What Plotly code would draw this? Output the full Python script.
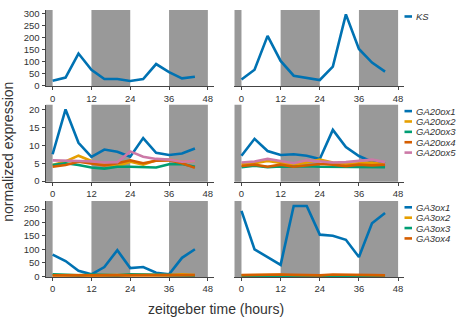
import plotly.graph_objects as go

# ---------------- data ----------------
hours = [0, 4, 8, 12, 16, 20, 24, 28, 32, 36, 40, 44]
x_ticks = [0, 12, 24, 36, 48]
night_start = [-2.2, 12, 36]
night_end = [0, 24, 48]

# Row 1: KS
ks_left = [20, 33, 134, 66, 27, 27, 19, 27, 90, 56, 30, 37]
ks_right = [25, 66, 208, 103, 41, 31, 23, 79, 298, 153, 96, 58]

# Row 2: GA20ox
ga20ox1_left = [7.5, 20.0, 10.7, 6.8, 8.8, 8.2, 6.8, 12.0, 7.9, 7.3, 7.7, 9.1]
ga20ox2_left = [4.5, 5.5, 7.1, 5.6, 4.6, 4.2, 5.4, 4.6, 5.8, 6.0, 5.4, 5.6]
ga20ox3_left = [4.5, 5.0, 4.5, 3.8, 3.5, 4.0, 4.0, 4.0, 3.8, 4.7, 4.8, 4.0]
ga20ox4_left = [4.0, 4.5, 5.4, 5.0, 4.4, 5.0, 5.8, 5.0, 5.7, 5.8, 5.0, 3.7]
ga20ox5_left = [5.8, 5.8, 5.6, 5.5, 5.2, 5.3, 8.3, 6.8, 6.2, 6.0, 5.4, 5.6]

ga20ox1_right = [7.1, 11.8, 8.4, 7.3, 7.5, 7.1, 6.2, 14.3, 9.5, 7.0, 5.4, 5.0]
ga20ox2_right = [4.8, 5.0, 5.6, 5.2, 4.6, 5.2, 6.0, 5.2, 4.8, 5.0, 5.2, 4.6]
ga20ox3_right = [3.9, 4.3, 3.9, 4.1, 4.0, 4.2, 4.0, 4.0, 4.1, 3.9, 4.0, 3.9]
ga20ox4_right = [4.2, 4.6, 4.0, 4.6, 4.0, 4.3, 4.8, 4.6, 4.2, 4.6, 4.4, 4.6]
ga20ox5_right = [5.2, 5.5, 6.2, 5.5, 5.0, 5.8, 5.6, 5.2, 5.3, 5.6, 6.0, 5.3]

# Row 3: GA3ox
ga3ox1_left = [81, 57, 21, 8, 35, 97, 31, 35, 14, 8, 69, 101]
ga3ox2_left = [5, 4, 3, 4, 5, 4, 5, 6, 5, 5, 8, 5]
ga3ox3_left = [8, 6, 4, 7, 5, 4, 8, 7, 4, 5, 4, 3]
ga3ox4_left = [4, 4, 4, 4, 3, 3, 4, 5, 5, 4, 5, 5]

ga3ox1_right = [243, 100, 72, 43, 261, 261, 155, 151, 136, 72, 197, 235]
ga3ox2_right = [4, 5, 5, 6, 3, 3, 3, 4, 4, 3, 3, 2]
ga3ox3_right = [3, 3, 3, 3, 2, 2, 2, 3, 3, 3, 2, 2]
ga3ox4_right = [5, 6, 6, 7, 6, 4, 4, 7, 7, 7, 5, 4]

row1_names = ["KS"]
row2_names = ["GA20ox1", "GA20ox2", "GA20ox3", "GA20ox4", "GA20ox5"]
row3_names = ["GA3ox1", "GA3ox2", "GA3ox3", "GA3ox4"]

row1_ticks = [0, 50, 100, 150, 200, 250, 300]
row2_ticks = [0, 5, 10, 15, 20]
row3_ticks = [0, 50, 100, 150, 200, 250]

# ---------------- style / layout ----------------
W, H = 458, 327
colors = ["#0072B2", "#E69F00", "#009E73", "#D55E00", "#CC79A7"]
shade = "#999999"
axcol = "#444444"
txtcol = "#333333"
FONT = "Liberation Sans, Arial, sans-serif"

col_px = [(45.5, 214.0), (234.3, 404.3)]
row_px = [(8.3, 86.3), (105.0, 183.8), (203.3, 281.0)]
x_range = [-2.2, 49.9]

rows = [
    dict(names=row1_names, left=[ks_left], right=[ks_right],
         yrange=[-4, 316], yticks=row1_ticks),
    dict(names=row2_names,
         left=[ga20ox1_left, ga20ox2_left, ga20ox3_left, ga20ox4_left, ga20ox5_left],
         right=[ga20ox1_right, ga20ox2_right, ga20ox3_right, ga20ox4_right, ga20ox5_right],
         yrange=[-0.2, 21.3], yticks=row2_ticks),
    dict(names=row3_names,
         left=[ga3ox1_left, ga3ox2_left, ga3ox3_left, ga3ox4_left],
         right=[ga3ox1_right, ga3ox2_right, ga3ox3_right, ga3ox4_right],
         yrange=[-2, 280], yticks=row3_ticks),
]

fig = go.Figure()
layout = dict(
    width=W, height=H, margin=dict(l=0, r=0, t=0, b=0),
    paper_bgcolor="white", plot_bgcolor="white",
    showlegend=False, font=dict(family=FONT, color=txtcol),
)
shapes = []
annotations = []

idx = 0
for r, row in enumerate(rows):
    top, bot = row_px[r]
    ydom = [(H - bot) / H, (H - top) / H]
    for c, side in enumerate(["left", "right"]):
        idx += 1
        sfx = "" if idx == 1 else str(idx)
        xa, ya = "x" + sfx, "y" + sfx
        x0p, x1p = col_px[c]
        layout["xaxis" + sfx] = dict(
            domain=[x0p / W, x1p / W], range=x_range, anchor=ya,
            tickvals=x_ticks, ticks="outside", ticklen=3, tickwidth=1,
            tickcolor=axcol, showline=True, linecolor=axcol, linewidth=1,
            showgrid=False, zeroline=False,
            tickfont=dict(size=9.5, color=txtcol, family=FONT),
        )
        yax = dict(
            domain=ydom, range=row["yrange"], anchor=xa,
            showgrid=False, zeroline=False,
        )
        if c == 0:
            yax.update(tickvals=row["yticks"], ticks="outside", ticklen=3,
                       tickwidth=1, tickcolor=axcol, showline=True,
                       linecolor=axcol, linewidth=1,
                       tickfont=dict(size=9.5, color=txtcol, family=FONT))
        else:
            yax.update(showticklabels=False, ticks="", showline=False)
        layout["yaxis" + sfx] = yax

        for s0, s1 in zip(night_start, night_end):
            shapes.append(dict(type="rect", xref=xa, yref=ya + " domain",
                               x0=s0, x1=s1, y0=0, y1=1, fillcolor=shade,
                               line=dict(width=0), layer="below"))

        for k, (name, vals) in enumerate(zip(row["names"], row[side])):
            fig.add_trace(go.Scatter(
                x=hours, y=vals, mode="lines", name=name,
                xaxis=xa, yaxis=ya,
                line=dict(color=colors[k], width=2.6),
            ))

    # manual legend for this row
    for k, name in enumerate(row["names"]):
        ypix = top + 6.5 + k * 10.6
        yp = (H - ypix) / H
        shapes.append(dict(type="line", xref="paper", yref="paper",
                           x0=404.5 / W, x1=412 / W, y0=yp, y1=yp,
                           line=dict(color=colors[k], width=2.6)))
        annotations.append(dict(xref="paper", yref="paper", x=413.5 / W, y=yp,
                                xanchor="left", yanchor="middle", showarrow=False,
                                text="<i>" + name + "</i>",
                                font=dict(size=9.5, color=txtcol, family=FONT)))

annotations.append(dict(xref="paper", yref="paper", x=8 / W, y=(H - 153) / H,
                        xanchor="center", yanchor="middle", showarrow=False,
                        textangle=-90, text="normalized expression",
                        font=dict(size=14, color=txtcol, family=FONT)))
annotations.append(dict(xref="paper", yref="paper", x=216 / W, y=(H - 314) / H,
                        xanchor="center", yanchor="middle", showarrow=False,
                        text="zeitgeber time (hours)",
                        font=dict(size=14, color=txtcol, family=FONT)))

layout["shapes"] = shapes
layout["annotations"] = annotations
fig.update_layout(**layout)
fig.write_html("out.html")
